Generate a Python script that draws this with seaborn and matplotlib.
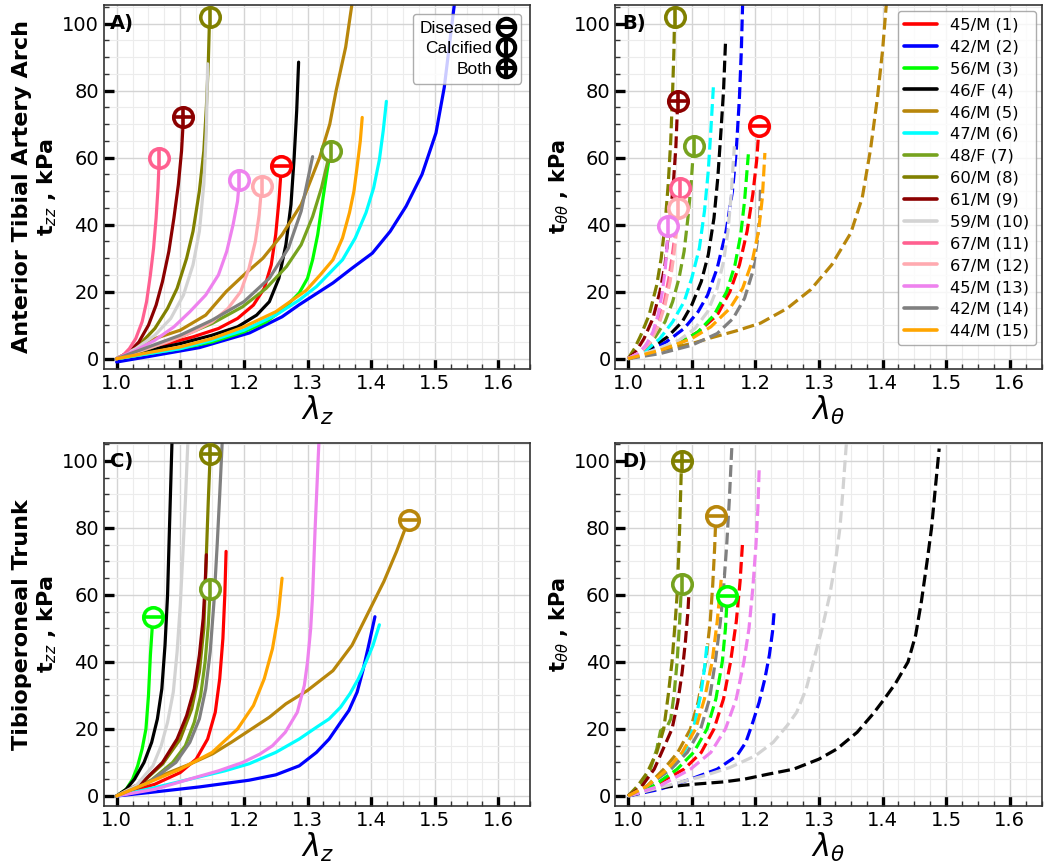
import matplotlib
matplotlib.use('Agg')
from matplotlib import pyplot as plt
from matplotlib.lines import Line2D
from matplotlib.ticker import MultipleLocator
import seaborn as sns

# subjects (legend order) and colours
subjects = ['45/M (1)', '42/M (2)', '56/M (3)', '46/F (4)', '46/M (5)', '47/M (6)', '48/F (7)',
            '60/M (8)', '61/M (9)', '59/M (10)', '67/M (11)', '67/M (12)', '45/M (13)',
            '42/M (14)', '44/M (15)']
colors = ['red', 'blue', 'lime', 'black', 'darkgoldenrod', 'cyan', '#76a21e', 'olive',
          'darkred', 'lightgray', '#ff6090', '#ffaab0', 'violet', 'gray', 'orange']

# Panel A: anterior tibial, axial (lambda_z vs t_zz)
A_x = {
    1: [1.0, 1.04, 1.08, 1.12, 1.16, 1.19, 1.215, 1.232, 1.243, 1.25, 1.255, 1.259],
    2: [1.0, 1.052, 1.13, 1.209, 1.26, 1.287, 1.34, 1.37, 1.402, 1.43, 1.455, 1.48, 1.502,
        1.515, 1.531],
    3: [1.0, 1.05, 1.1, 1.15, 1.2, 1.235, 1.261, 1.287, 1.3, 1.308, 1.316, 1.324, 1.33, 1.336],
    4: [1.0, 1.05, 1.1, 1.15, 1.19, 1.22, 1.24, 1.255, 1.266, 1.274, 1.279, 1.283, 1.286],
    5: [1.0, 1.03, 1.06, 1.1, 1.14, 1.172, 1.2, 1.23, 1.26, 1.29, 1.319, 1.335, 1.345, 1.36,
        1.37],
    6: [1.0, 1.05, 1.1, 1.15, 1.2, 1.25, 1.287, 1.314, 1.355, 1.375, 1.392, 1.404, 1.413,
        1.419, 1.424],
    7: [1.0, 1.05, 1.1, 1.15, 1.198, 1.235, 1.267, 1.29, 1.308, 1.322, 1.332, 1.337],
    8: [1.0, 1.02, 1.04, 1.06, 1.08, 1.095, 1.11, 1.12, 1.13, 1.137, 1.141, 1.144, 1.146],
    9: [1.0, 1.02, 1.035, 1.05, 1.062, 1.072, 1.082, 1.09, 1.097, 1.102, 1.105],
    10: [1.0, 1.03, 1.06, 1.085, 1.105, 1.12, 1.13, 1.137, 1.141, 1.143],
    11: [1.0, 1.01, 1.02, 1.03, 1.04, 1.047, 1.053, 1.058, 1.062, 1.065, 1.067],
    12: [1.0, 1.04, 1.08, 1.12, 1.15, 1.175, 1.195, 1.208, 1.218, 1.224, 1.228],
    13: [1.0, 1.03, 1.06, 1.09, 1.115, 1.14, 1.16, 1.173, 1.183, 1.19, 1.193],
    14: [1.0, 1.05, 1.1, 1.15, 1.2, 1.24, 1.27, 1.29, 1.308],
    15: [1.0, 1.05, 1.1, 1.15, 1.2, 1.25, 1.298, 1.32, 1.34, 1.355, 1.366, 1.373, 1.378,
         1.383, 1.386],
}
A_y = {
    1: [0, 2.5, 4.5, 6.5, 9, 12, 16, 21, 28, 37, 47, 57.5],
    2: [-1, 0.7, 3.3, 7.7, 12.5, 16.1, 22.6, 27, 31.5, 38, 45.5, 55, 67.4, 81, 106],
    3: [0, 1.5, 3, 5, 8, 11, 14.6, 19.6, 24, 29.5, 37, 47.5, 55, 62],
    4: [0, 2.5, 4.5, 7, 9.5, 13, 17, 24, 34, 46, 60, 74, 88.5],
    5: [0, 3, 6, 8.5, 13, 20, 25, 30, 37, 46, 60, 70, 80, 93, 106],
    6: [0, 1.5, 3, 5.5, 8.5, 13, 17.5, 21.5, 29.5, 36, 43.6, 51, 59.4, 68, 76.8],
    7: [0, 3, 6.5, 10.5, 15.5, 21, 27.5, 34, 42.4, 51, 59, 62],
    8: [0, 2, 5, 9, 15, 21, 30, 38, 50, 62, 75, 88, 102],
    9: [0, 2, 5, 10, 16, 23, 32, 42, 52, 62, 72],
    10: [0, 3, 7, 12, 19, 28, 38, 52, 68, 88],
    11: [0, 1, 3, 6, 11, 17, 25, 33, 42, 51, 60],
    12: [0, 2.5, 5, 8, 11, 15, 20, 27, 35, 43, 51.5],
    13: [0, 2.5, 5.5, 9.5, 14, 19, 25, 32, 40, 47, 53.4],
    14: [0, 3.5, 7, 11.5, 17, 24, 33, 44, 60.3],
    15: [0, 1.8, 3.5, 6, 9.5, 14, 20.4, 25, 29.5, 36, 43.6, 50, 57.3, 65, 72],
}

# Panel B: anterior tibial, circumferential (lambda_theta vs t_tt)
B_x = {
    1: [1.0, 1.04, 1.08, 1.11, 1.14, 1.16, 1.175, 1.187, 1.196, 1.202, 1.206],
    2: [1.0, 1.03, 1.06, 1.088, 1.11, 1.125, 1.14, 1.154, 1.164, 1.17, 1.175, 1.178, 1.18],
    3: [1.0, 1.04, 1.08, 1.11, 1.135, 1.155, 1.168, 1.177, 1.183, 1.189],
    4: [1.0, 1.03, 1.062, 1.085, 1.1, 1.115, 1.126, 1.135, 1.141, 1.146, 1.15, 1.153],
    5: [1.0, 1.05, 1.1, 1.13, 1.17, 1.208, 1.25, 1.287, 1.32, 1.35, 1.368, 1.381, 1.392,
        1.4, 1.406],
    6: [1.0, 1.025, 1.05, 1.07, 1.088, 1.1, 1.112, 1.12, 1.126, 1.13, 1.134],
    7: [1.0, 1.02, 1.041, 1.058, 1.07, 1.08, 1.088, 1.094, 1.099, 1.103],
    8: [1.0, 1.01, 1.02, 1.033, 1.045, 1.052, 1.058, 1.063, 1.067, 1.07, 1.072, 1.073],
    9: [1.0, 1.012, 1.025, 1.039, 1.05, 1.058, 1.065, 1.071, 1.075, 1.078],
    10: [1.0, 1.04, 1.08, 1.105, 1.125, 1.14, 1.15, 1.157, 1.162, 1.167],
    11: [1.0, 1.02, 1.036, 1.048, 1.057, 1.065, 1.071, 1.077, 1.082],
    12: [1.0, 1.02, 1.035, 1.048, 1.058, 1.066, 1.072, 1.076, 1.078],
    13: [1.0, 1.015, 1.028, 1.039, 1.047, 1.053, 1.058, 1.061, 1.063],
    14: [1.0, 1.05, 1.1, 1.14, 1.165, 1.183, 1.196, 1.203, 1.207, 1.208],
    15: [1.0, 1.05, 1.1, 1.13, 1.16, 1.18, 1.195, 1.205, 1.211, 1.215],
}
B_y = {
    1: [0, 2, 4.5, 8, 13, 20, 28, 38, 49, 59, 69.4],
    2: [0, 2, 5, 9, 14, 19, 27, 38, 50, 62, 78, 92, 106],
    3: [0, 2, 4.5, 8, 13, 20, 28, 37, 47, 61],
    4: [0, 2.5, 6.5, 11, 16, 23, 31, 42, 54, 68, 80, 94],
    5: [0, 2.5, 4.5, 6.2, 8.3, 10.6, 15, 20.6, 28, 37.5, 48, 62.4, 78, 92, 106],
    6: [0, 2, 6, 11, 17, 24, 33, 44, 56, 68, 81],
    7: [0, 2, 6, 11, 17, 24, 32, 42, 52, 63.4],
    8: [0, 3, 7, 13, 22, 30, 40, 52, 65, 80, 92, 102],
    9: [0, 2, 6, 12, 20, 28, 40, 52, 63, 76.8],
    10: [0, 2.5, 5.5, 9, 14, 21, 29, 38, 49, 63.4],
    11: [0, 2, 6, 11, 17, 25, 33, 42, 51],
    12: [0, 2, 5, 10, 16, 23, 31, 38, 45],
    13: [0, 1.5, 4, 8, 13, 19, 26, 33, 39.5],
    14: [0, 1.5, 4, 7.5, 12, 18, 26, 35, 43, 50.4],
    15: [0, 2.5, 6, 9.5, 15, 21, 29, 38, 48, 61.4],
}

# Panel C: tibioperoneal trunk, axial
C_x = {
    1: [1.0, 1.06, 1.1, 1.125, 1.143, 1.155, 1.162, 1.167, 1.17, 1.172],
    2: [1.0, 1.05, 1.13, 1.208, 1.25, 1.287, 1.314, 1.334, 1.351, 1.365, 1.378, 1.387, 1.395,
        1.406],
    3: [1.0, 1.015, 1.025, 1.033, 1.04, 1.046, 1.05, 1.053, 1.057],
    4: [1.0, 1.015, 1.028, 1.043, 1.055, 1.064, 1.071, 1.076, 1.08, 1.083, 1.087],
    5: [1.0, 1.04, 1.077, 1.115, 1.151, 1.18, 1.208, 1.24, 1.266, 1.3, 1.34, 1.37, 1.397,
        1.42, 1.44, 1.459],
    6: [1.0, 1.06, 1.13, 1.17, 1.208, 1.25, 1.287, 1.314, 1.334, 1.352, 1.367, 1.38, 1.392,
        1.403, 1.413],
    7: [1.0, 1.05, 1.088, 1.108, 1.122, 1.132, 1.139, 1.144, 1.147],
    8: [1.0, 1.04, 1.072, 1.1, 1.118, 1.13, 1.137, 1.141, 1.144, 1.147],
    9: [1.0, 1.04, 1.072, 1.095, 1.11, 1.122, 1.13, 1.136, 1.139, 1.141],
    10: [1.0, 1.03, 1.057, 1.07, 1.08, 1.089, 1.095, 1.1, 1.104, 1.108, 1.112],
    11: [],
    12: [],
    13: [1.0, 1.06, 1.114, 1.16, 1.198, 1.225, 1.245, 1.265, 1.284, 1.295, 1.3, 1.305, 1.308,
         1.312, 1.318],
    14: [1.0, 1.05, 1.093, 1.115, 1.13, 1.14, 1.147, 1.153, 1.158, 1.162, 1.166],
    15: [1.0, 1.05, 1.1, 1.15, 1.19, 1.215, 1.232, 1.245, 1.254, 1.26],
}
C_y = {
    1: [0, 3.5, 7, 11, 17, 25, 35, 47, 60, 73],
    2: [0, 1, 2.7, 4.7, 6.3, 9, 13, 17, 21.7, 25.5, 31, 37.4, 44, 53.5],
    3: [0, 2, 5, 9, 14, 20, 30, 42, 53.5],
    4: [0, 2, 5, 10, 16, 23, 32, 45, 60, 80, 106],
    5: [0, 3.5, 6.6, 9.5, 12.6, 16, 19.5, 23.5, 27.5, 31.5, 37.4, 45, 55.3, 64, 73, 82.5],
    6: [0, 2.5, 5.7, 7.5, 9.6, 13, 17, 20.5, 23, 26.5, 30.6, 35, 40, 45, 51.1],
    7: [0, 4, 10, 15, 22, 30, 40, 51, 61.7],
    8: [0, 4, 9.5, 17, 26, 37, 50, 72, 88, 102],
    9: [0, 4, 10, 17, 24, 32, 42, 53, 63, 72],
    10: [0, 3, 9, 15, 22, 31, 43, 57, 72, 88, 106],
    11: [],
    12: [],
    13: [0, 2, 5, 7.5, 10, 12.5, 15, 19, 25, 33, 40, 50, 60, 80, 106],
    14: [0, 4, 10, 16, 23, 32, 43, 58, 75, 90, 106],
    15: [0, 4, 8, 13, 20, 27, 35, 44, 54, 65],
}

# Panel D: tibioperoneal trunk, circumferential
D_x = {
    1: [1.0, 1.04, 1.088, 1.115, 1.135, 1.15, 1.161, 1.17, 1.176, 1.18],
    2: [1.0, 1.05, 1.098, 1.14, 1.171, 1.185, 1.196, 1.206, 1.215, 1.222, 1.227, 1.23],
    3: [1.0, 1.04, 1.077, 1.103, 1.124, 1.138, 1.148, 1.153, 1.156],
    4: [1.0, 1.05, 1.103, 1.15, 1.182, 1.22, 1.26, 1.3, 1.328, 1.36, 1.385, 1.401, 1.42,
        1.44, 1.452, 1.461, 1.47, 1.477, 1.483, 1.489],
    5: [1.0, 1.03, 1.056, 1.078, 1.098, 1.11, 1.122, 1.129, 1.133, 1.136, 1.138],
    6: [1.0, 1.03, 1.067, 1.082, 1.093, 1.105, 1.114, 1.12, 1.124],
    7: [1.0, 1.02, 1.035, 1.045, 1.051, 1.062, 1.067, 1.072, 1.077, 1.081, 1.084],
    8: [1.0, 1.015, 1.03, 1.045, 1.056, 1.063, 1.069, 1.074, 1.077, 1.081, 1.084],
    9: [1.0, 1.02, 1.041, 1.055, 1.069, 1.078, 1.085, 1.09, 1.094, 1.096],
    10: [1.0, 1.06, 1.119, 1.16, 1.2, 1.228, 1.25, 1.265, 1.28, 1.291, 1.305, 1.317, 1.326,
         1.333, 1.338, 1.343],
    11: [],
    12: [],
    13: [1.0, 1.05, 1.098, 1.13, 1.153, 1.17, 1.182, 1.19, 1.196, 1.201, 1.204, 1.206],
    14: [1.0, 1.03, 1.067, 1.093, 1.114, 1.128, 1.137, 1.145, 1.15, 1.155, 1.159, 1.163],
    15: [1.0, 1.03, 1.062, 1.085, 1.106, 1.12, 1.132, 1.14, 1.147],
}
D_y = {
    1: [0, 3, 8, 13, 20, 29, 40, 52, 64, 76],
    2: [0, 2, 5, 8, 12, 16, 22, 28, 35, 42, 49, 56],
    3: [0, 3, 8, 13, 20, 29, 40, 50, 59.7],
    4: [0, 2.5, 3.5, 4.2, 5, 6.5, 8, 11, 14, 19, 24.5, 28.5, 33.5, 40, 48, 58, 70, 80, 92,
        103.7],
    5: [0, 3, 8, 13, 20, 28, 40, 52, 63, 74, 83.5],
    6: [0, 3, 8, 11, 15, 22, 30, 38, 45.3],
    7: [0, 3, 8, 14, 19.5, 21, 23, 30, 40, 52, 63.4],
    8: [0, 3, 7, 13, 20, 30, 40, 52, 60, 80, 100],
    9: [0, 2.5, 8, 14, 20, 28, 37, 46, 55, 62],
    10: [0, 3, 6, 8.5, 12, 16, 21, 25, 32, 40, 50, 60, 70, 80, 92, 105],
    11: [],
    12: [],
    13: [0, 3, 8, 13, 20, 29, 40, 50, 62, 75, 86, 97.4],
    14: [0, 3, 8, 13, 20, 29, 40, 52, 62, 75, 88, 104],
    15: [0, 3, 8, 13, 20, 29, 40, 52, 66],
}

# end markers: subject -> kind
A_marks = {1: 'diseased', 7: 'calcified', 8: 'calcified', 9: 'both', 11: 'calcified',
           12: 'calcified', 13: 'calcified'}
B_marks = {1: 'diseased', 7: 'calcified', 8: 'calcified', 9: 'both', 11: 'calcified',
           12: 'calcified', 13: 'calcified'}
C_marks = {3: 'diseased', 5: 'diseased', 7: 'calcified', 8: 'both'}
D_marks = {3: 'diseased', 5: 'diseased', 7: 'calcified', 8: 'both'}

inner = {'diseased': '_', 'calcified': '|', 'both': '+'}
MS = 14
MEW = 2.6

sns.set_style('whitegrid')
plt.rcParams['font.family'] = ['DejaVu Sans']
plt.rcParams['text.color'] = 'black'
plt.rcParams['axes.labelcolor'] = 'black'
plt.rcParams['xtick.labelcolor'] = 'black'
plt.rcParams['ytick.labelcolor'] = 'black'

fig, axes = plt.subplots(2, 2, figsize=(10.5, 8.68), dpi=100)
fig.subplots_adjust(left=0.099, right=0.992, bottom=0.0714, top=0.994, wspace=0.2, hspace=0.203)

panels = [
    (axes[0, 0], A_x, A_y, A_marks, '-', 'A)'),
    (axes[0, 1], B_x, B_y, B_marks, '--', 'B)'),
    (axes[1, 0], C_x, C_y, C_marks, '-', 'C)'),
    (axes[1, 1], D_x, D_y, D_marks, '--', 'D)'),
]

for ax, xs, ys, marks, ls, tag in panels:
    for i, (lab, col) in enumerate(zip(subjects, colors)):
        k = i + 1
        if len(xs[k]) == 0:
            continue
        kw = dict(gapcolor='white') if ls == '--' else {}
        sns.lineplot(x=xs[k], y=ys[k], color=col, lw=2.3, linestyle=ls, sort=False,
                     estimator=None, ax=ax, label=lab, **kw)
        if k in marks:
            px, py = xs[k][-1], ys[k][-1]
            ax.plot(px, py, marker='o', ms=MS, mfc='white', mec=col, mew=MEW, zorder=5)
            ax.plot(px, py, marker=inner[marks[k]], ms=MS, mec=col, mew=MEW, zorder=6)
    ax.set_xlim(0.98, 1.65)
    ax.set_ylim(-3, 105.5)
    ax.xaxis.set_major_locator(MultipleLocator(0.1))
    ax.xaxis.set_minor_locator(MultipleLocator(0.025))
    ax.yaxis.set_major_locator(MultipleLocator(20))
    ax.yaxis.set_minor_locator(MultipleLocator(5))
    ax.grid(which='major', color='#d4d4d4', lw=1.0)
    ax.grid(which='minor', color='#ececec', lw=0.8)
    ax.tick_params(which='major', direction='in', length=7, width=2.4, labelsize=14,
                   left=True, bottom=True, color='black', labelcolor='black')
    ax.tick_params(which='minor', direction='in', length=3.5, width=1, left=True,
                   bottom=True, color='#333333')
    for sp in ax.spines.values():
        sp.set_color('#333333')
        sp.set_linewidth(1.2)
    ax.text(0.015, 0.975, tag, transform=ax.transAxes, fontsize=14, fontweight='bold',
            va='top', ha='left', color='black')
    if ax.get_legend() is not None:
        ax.get_legend().remove()

axes[0, 0].set_ylabel('Anterior Tibial Artery Arch\n' + r't$_{zz}$ , kPa', fontsize=16,
                      fontweight='bold', labelpad=2)
axes[1, 0].set_ylabel('Tibioperoneal Trunk\n' + r't$_{zz}$ , kPa', fontsize=16,
                      fontweight='bold', labelpad=2)
axes[0, 1].set_ylabel(r't$_{\theta\theta}$ , kPa', fontsize=15, fontweight='bold', labelpad=2)
axes[1, 1].set_ylabel(r't$_{\theta\theta}$ , kPa', fontsize=15, fontweight='bold', labelpad=2)
for ax in axes[:, 0]:
    ax.set_xlabel(r'$\lambda_z$', fontsize=22, labelpad=1)
for ax in axes[:, 1]:
    ax.set_xlabel(r'$\lambda_\theta$', fontsize=22, labelpad=1)

# subject legend in panel B
handles = [Line2D([], [], color=c, lw=2.6) for c in colors]
axes[0, 1].legend(handles, subjects, loc='upper right', fontsize=11.8,
                  labelspacing=0.42, handlelength=2.0, borderaxespad=0.35,
                  frameon=True, edgecolor='#999999', fancybox=True)

# marker legend in panel A
mk_handles = []
for kind in ['diseased', 'calcified', 'both']:
    c = Line2D([], [], ls='none', marker='o', ms=12.5, mfc='white', mec='black', mew=3)
    m = Line2D([], [], ls='none', marker=inner[kind], ms=12.5, mec='black', mew=3)
    mk_handles.append((c, m))
axes[0, 0].legend(mk_handles, ['Diseased', 'Calcified', 'Both'], loc='upper right',
                  markerfirst=False, handlelength=1.0, handletextpad=0.3,
                  prop={'family': 'Liberation Sans', 'size': 12.5}, labelspacing=0.3,
                  borderaxespad=0.5, edgecolor='#999999', fancybox=True)

fig.savefig('out.png', dpi=100)
